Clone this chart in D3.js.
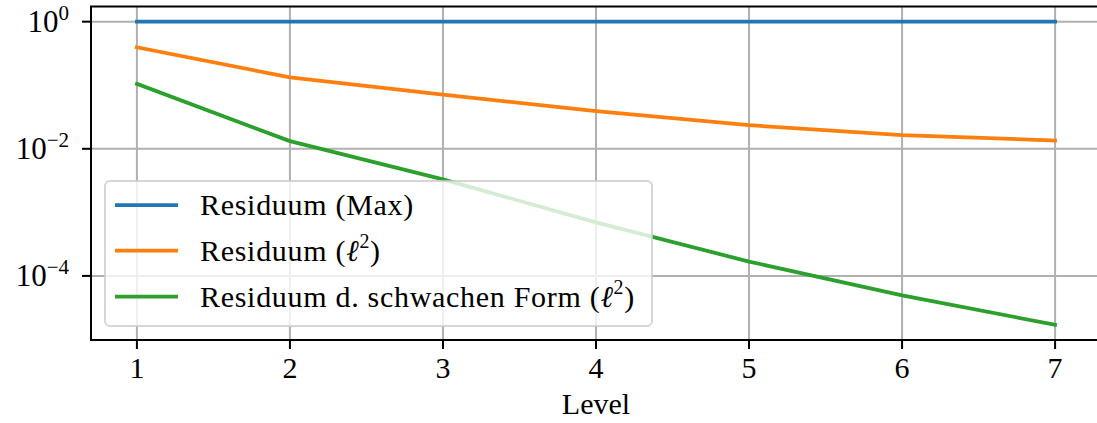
<!DOCTYPE html>
<html>
<head>
<meta charset="utf-8">
<script src="https://cdn.jsdelivr.net/npm/d3@7"></script>
<style>
  body { margin: 0; background: #fff; }
  text { font-family: "Liberation Serif", "DejaVu Serif", serif; fill: #000; }
</style>
</head>
<body>
<svg id="chart" width="1097" height="423"></svg>
<script>
// data
var levels = [1, 2, 3, 4, 5, 6, 7];
var resMax = [1, 1, 1, 1, 1, 1, 1];
var resL2 = [0.395, 0.133, 0.0713, 0.039, 0.0235, 0.0164, 0.0135];
var resWeak = [0.105, 0.0132, 0.0033, 0.000695, 0.000168, 0.0000495, 0.000017];
var yTickExps = [0, -2, -4];

var series = [
  { name: "max", values: resMax, color: "#1f77b4" },
  { name: "l2", values: resL2, color: "#ff7f0e" },
  { name: "weak", values: resWeak, color: "#2ca02c" }
];

var plotL = 91, plotR = 1101, plotT = 6.5, plotB = 340;
var svg = d3.select("#chart");

// matplotlib-like 5% margins (log space for y)
var xMin = d3.min(levels), xMax = d3.max(levels);
var xPad = (xMax - xMin) * 0.05;
var x = d3.scaleLinear().domain([xMin - xPad, xMax + xPad]).range([plotL, plotR]);

var all = resMax.concat(resL2, resWeak);
var lo = Math.log10(d3.min(all)), hi = Math.log10(d3.max(all));
var yPad = (hi - lo) * 0.05;
var y = d3.scaleLog().domain([Math.pow(10, lo - yPad), Math.pow(10, hi + yPad)]).range([plotB, plotT]);

svg.append("defs").append("clipPath").attr("id", "clip")
  .append("rect").attr("x", plotL).attr("y", plotT).attr("width", plotR - plotL).attr("height", plotB - plotT);

// grid
var grid = svg.append("g").attr("stroke", "#b0b0b0").attr("stroke-width", 2);
grid.selectAll(".gx").data(levels).enter().append("line")
  .attr("x1", function(d) { return x(d); }).attr("x2", function(d) { return x(d); })
  .attr("y1", plotT).attr("y2", plotB);
grid.selectAll(".gy").data(yTickExps).enter().append("line")
  .attr("x1", plotL).attr("x2", plotR)
  .attr("y1", function(d) { return y(Math.pow(10, d)); })
  .attr("y2", function(d) { return y(Math.pow(10, d)); });

// lines
var line = d3.line()
  .x(function(d, i) { return x(levels[i]); })
  .y(function(d) { return y(d); });

svg.append("g").attr("clip-path", "url(#clip)")
  .selectAll("path").data(series).enter().append("path")
  .attr("d", function(s) { return line(s.values); })
  .attr("fill", "none")
  .attr("stroke", function(s) { return s.color; })
  .attr("stroke-width", 3.75)
  .attr("stroke-linecap", "square")
  .attr("stroke-linejoin", "round");

// spines
svg.append("rect")
  .attr("x", plotL).attr("y", plotT).attr("width", plotR - plotL).attr("height", plotB - plotT)
  .attr("fill", "none").attr("stroke", "#000").attr("stroke-width", 2);

// x ticks
var xt = svg.append("g");
xt.selectAll("line").data(levels).enter().append("line")
  .attr("x1", function(d) { return x(d); }).attr("x2", function(d) { return x(d); })
  .attr("y1", plotB).attr("y2", plotB + 9)
  .attr("stroke", "#000").attr("stroke-width", 2);
xt.selectAll("text").data(levels).enter().append("text")
  .attr("x", function(d) { return x(d); })
  .attr("y", 378)
  .attr("text-anchor", "middle")
  .attr("font-size", 30)
  .text(function(d) { return d; });

svg.append("text")
  .attr("x", (plotL + plotR) / 2)
  .attr("y", 414)
  .attr("text-anchor", "middle")
  .attr("font-size", 30)
  .text("Level");

// y ticks
var yt = svg.append("g");
yt.selectAll("line").data(yTickExps).enter().append("line")
  .attr("x1", plotL - 9).attr("x2", plotL)
  .attr("y1", function(d) { return y(Math.pow(10, d)); })
  .attr("y2", function(d) { return y(Math.pow(10, d)); })
  .attr("stroke", "#000").attr("stroke-width", 2);
var ylab = yt.selectAll("text").data(yTickExps).enter().append("text")
  .attr("x", 69)
  .attr("y", function(d) { return y(Math.pow(10, d)) + 10; })
  .attr("text-anchor", "end")
  .attr("font-size", 31);
ylab.append("tspan").text("10");
ylab.append("tspan")
  .attr("font-size", 21)
  .attr("dy", -12)
  .text(function(d) { return d < 0 ? "\u2212" + (-d) : d; });

// legend
var legend = svg.append("g");
legend.append("rect")
  .attr("x", 105).attr("y", 181).attr("width", 547).attr("height", 145)
  .attr("rx", 5)
  .attr("fill", "#fff").attr("fill-opacity", 0.8)
  .attr("stroke", "#cccccc").attr("stroke-opacity", 0.8).attr("stroke-width", 2);

var rowY = [205, 250.5, 296.5];
var items = legend.selectAll(".item").data(series).enter().append("g")
  .attr("transform", function(s, i) { return "translate(0," + rowY[i] + ")"; });
items.append("line")
  .attr("x1", 115).attr("x2", 178).attr("y1", 0).attr("y2", 0)
  .attr("stroke", function(s) { return s.color; })
  .attr("stroke-width", 3.75);
var lt = items.append("text")
  .attr("x", 200).attr("y", 10)
  .attr("font-size", 30)
  .attr("letter-spacing", 0.7);

lt.each(function(s) {
  var t = d3.select(this);
  if (s.name === "max") {
    t.text("Residuum (Max)");
  } else {
    t.append("tspan").text(s.name === "l2" ? "Residuum (" : "Residuum d. schwachen Form (");
    t.append("tspan").attr("font-style", "italic").text("\u2113");
    t.append("tspan").attr("font-size", 20).attr("dy", -13).text("2");
    t.append("tspan").attr("dy", 13).text(")");
  }
});
</script>
</body>
</html>
